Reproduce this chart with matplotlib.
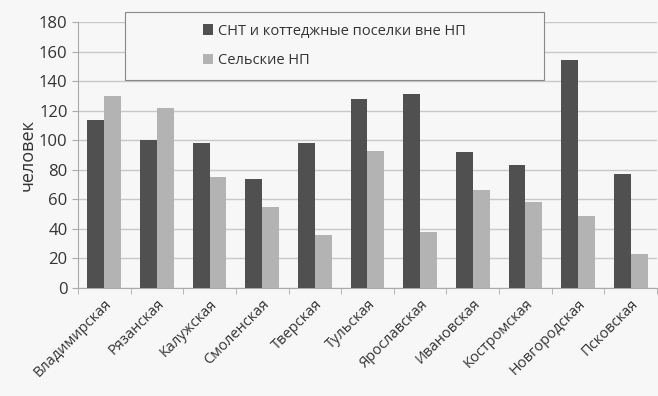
import matplotlib.pyplot as plt
from matplotlib.patches import Rectangle
import numpy as np

plt.rcParams['font.family'] = ['Open Sans', 'DejaVu Sans']

regions = ['Владимирская', 'Рязанская', 'Калужская', 'Смоленская', 'Тверская',
           'Тульская', 'Ярославская', 'Ивановская', 'Костромская', 'Новгородская',
           'Псковская']
snt = [114, 100, 98, 74, 98, 128, 131, 92, 83, 154, 77]
rural = [130, 122, 75, 55, 36, 93, 38, 66, 58, 49, 23]
yticks = [0, 20, 40, 60, 80, 100, 120, 140, 160, 180]

fig = plt.figure(figsize=(6.58, 3.96), dpi=100, facecolor='#f7f7f7')
ax = fig.add_axes([0.1185, 0.2727, 0.88, 0.6717], facecolor='#f7f7f7')

x = np.arange(len(regions))
w = 0.32
ax.bar(x - w / 2, snt, w, color='#505050', label='СНТ и коттеджные поселки вне НП', zorder=3)
ax.bar(x + w / 2, rural, w, color='#b3b3b3', label='Сельские НП', zorder=3)

ax.set_ylim(0, 180)
ax.set_xlim(-0.5, len(regions) - 0.5)
ax.set_yticks(yticks)
ax.yaxis.grid(True, color='#c8c8c8', linewidth=1, zorder=0)
ax.set_xticks(x)
ax.set_xticklabels(regions, rotation=45, ha='right', rotation_mode='anchor',
                   fontsize=10.5, color='#333333')
ax.set_xticks(np.arange(-0.5, len(regions)), minor=True)
ax.tick_params(axis='x', which='major', length=0, pad=6)
ax.tick_params(axis='x', which='minor', length=4, color='#aaaaaa')
ax.tick_params(axis='y', labelsize=12, labelcolor='#333333', length=4, color='#aaaaaa')
ax.set_ylabel('человек', fontsize=13, color='#333333', labelpad=2)
for s in ['top', 'right']:
    ax.spines[s].set_visible(False)
ax.spines['left'].set_color('#aaaaaa')
ax.spines['bottom'].set_color('#aaaaaa')

# legend frame drawn separately so the entries sit centred in a wide box
box = Rectangle((0.081, 0.782), 0.724, 0.256, transform=ax.transAxes,
                facecolor='#f7f7f7', edgecolor='#888888', linewidth=0.8,
                clip_on=False, zorder=4)
ax.add_patch(box)
leg = ax.legend(loc='center', bbox_to_anchor=(0.443, 0.91), fontsize=10.5,
                frameon=False, handlelength=0.7, handleheight=0.7, handletextpad=0.3,
                labelspacing=1.0)
leg.set_zorder(5)
for t in leg.get_texts():
    t.set_color('#333333')

fig.savefig('out.png', dpi=100, facecolor=fig.get_facecolor())
